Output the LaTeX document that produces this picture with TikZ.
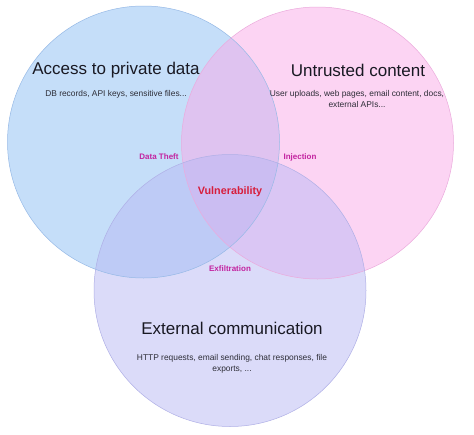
\documentclass[tikz,border=0pt]{standalone}
\usepackage{fontspec}
\setmainfont{Liberation Sans}
\usepackage{tikz}

\definecolor{privfill}{RGB}{140,190,245}
\definecolor{privedge}{RGB}{150,185,230}
\definecolor{untrfill}{RGB}{250,170,232}
\definecolor{untredge}{RGB}{235,170,220}
\definecolor{extfill}{RGB}{185,185,245}
\definecolor{extedge}{RGB}{175,175,230}
\definecolor{headtext}{RGB}{25,25,35}
\definecolor{subtext}{RGB}{45,45,55}
\definecolor{pairtext}{RGB}{195,35,160}
\definecolor{vulntext}{RGB}{215,30,60}

\tikzset{
  heading/.style={font=\fontsize{17}{19}\selectfont, text=headtext},
  detail/.style={font=\fontsize{8.4}{11}\selectfont, text=subtext, align=center},
  pairlabel/.style={font=\bfseries\fontsize{8}{9}\selectfont, text=pairtext},
  vulnlabel/.style={font=\bfseries\fontsize{10.8}{12}\selectfont, text=vulntext}
}

\begin{document}
\begin{tikzpicture}[x=1pt,y=-1pt]
\useasboundingbox (0,0) rectangle (474,434);
\fill[white] (0,0) rectangle (474,434);

% the three sets
\fill[privfill, fill opacity=0.5] (143.5,142) circle (136pt);
\fill[untrfill, fill opacity=0.5] (317.5,143) circle (136pt);
\fill[extfill, fill opacity=0.5] (230,290.5) circle (136pt);
\draw[privedge, line width=0.5pt] (143.5,142) circle (136pt);
\draw[untredge, line width=0.5pt] (317.5,143) circle (136pt);
\draw[extedge, line width=0.5pt] (230,290.5) circle (136pt);

% set titles
\node[heading] (privtitle) at (116,70) {Access to private data};
\node[detail] (privdesc) at (116,94) {DB records, API keys, sensitive files...};

\node[heading] (untrtitle) at (358,70) {Untrusted content};
\node[detail] (untrdesc) at (357,98.5) {User uploads, web pages, email content, docs,\\ external APIs...};

\node[heading] (exttitle) at (232,328) {External communication};
\node[detail] (extdesc) at (232,363.5) {HTTP requests, email sending, chat responses, file\\ exports, ...};

% overlaps
\node[pairlabel] (theft) at (159,157) {Data Theft};
\node[pairlabel] (inject) at (300,157) {Injection};
\node[pairlabel] (exfil) at (230,268.5) {Exfiltration};
\node[vulnlabel] (vuln) at (230,192) {Vulnerability};

\end{tikzpicture}
\end{document}
